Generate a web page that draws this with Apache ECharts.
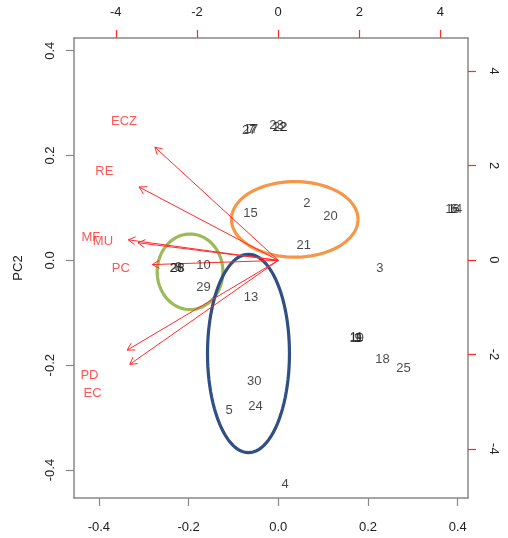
<!DOCTYPE html>
<html>
<head>
<meta charset="utf-8">
<script src="https://cdn.jsdelivr.net/npm/echarts@6/dist/echarts.min.js"></script>
<style>html,body{margin:0;padding:0;background:#fff}#c{width:508px;height:538px}</style>
</head>
<body>
<div id="c"></div>
<script>
// Observation scores (top / right axes)
const obsNames = ['1','2','3','4','5','6','7','8','9','10','11','12','13','14','15','16','17','18','19','20','21','22','23','24','25','26','27','28','29','30'];
const obsPC1 = [1.95,0.71,2.51,0.17,-1.21,4.33,-0.66,-2.46,1.97,-1.84,1.93,0.03,-0.67,4.36,-0.68,4.30,-0.67,2.57,1.94,1.29,0.63,0.05,-0.04,-0.56,3.09,-2.50,-0.71,-2.48,-1.84,-0.59];
const obsPC2 = [-1.62,1.23,-0.14,-4.72,-3.15,1.11,2.79,-0.13,-1.62,-0.09,-1.61,2.84,-0.77,1.10,1.01,1.11,2.79,-2.07,-1.62,0.95,0.33,2.84,2.89,-3.07,-2.27,-0.14,2.78,-0.14,-0.55,-2.54];
// Variable loadings (bottom / left axes)
const varNames = ['ECZ','RE','MF','MU','PC','PD','EC'];
const varPC1 = [-0.344,-0.388,-0.418,-0.391,-0.351,-0.421,-0.414];
const varPC2 = [0.270,0.175,0.049,0.042,-0.010,-0.214,-0.248];
const arrowScale = 0.8;
// Highlight ellipses (in score units)
const ellNames = ['orange','green','blue'];
const ellCX = [0.41,-2.17,-0.73];
const ellCY = [0.86,-0.25,-1.98];
const ellRX = [1.56,0.81,1.01];
const ellRY = [0.80,0.80,2.10];
const ellColors = ['#F79646','#9BBB59','#2F4F85'];
// Tick labels
const bottomTicks = [-0.4,-0.2,0,0.2,0.4];
const leftTicks = [-0.4,-0.2,0,0.2,0.4];
const topTicks = [-4,-2,0,2,4];
const rightTicks = [-4,-2,0,2,4];

const chart = echarts.init(document.getElementById('c'));
const FONT = 'Liberation Sans, Arial, sans-serif';
const gray = '#888888';
const red = '#FF2A2A';

function axisCommon(ticks, tickColor, fmt, margin, rotate){
  return {
    type:'value', scale:true,
    splitLine:{show:false},
    axisLine:{show:true, onZero:false, lineStyle:{color:gray, width:1.5}},
    axisTick:{show:true, length:8, customValues:ticks, lineStyle:{color:tickColor, width:1.2}},
    axisLabel:{show:true, customValues:ticks, formatter:fmt, margin:margin, rotate:rotate||0,
      color:'#222', fontSize:13, fontFamily:FONT}
  };
}

const ellSeries = ellNames.map((n,i)=>({
  type:'custom', xAxisIndex:1, yAxisIndex:1, silent:true, z:1,
  data:[[ellCX[i], ellCY[i], ellRX[i], ellRY[i]]],
  encode:{x:0,y:1},
  renderItem:(params, api)=>{
    const c = api.coord([api.value(0), api.value(1)]);
    const s = api.size([api.value(2), api.value(3)]);
    const pts=[];
    for(let k=0;k<=96;k++){const a=k/96*Math.PI*2; pts.push([c[0]+s[0]*Math.cos(a), c[1]+s[1]*Math.sin(a)]);}
    return {type:'polyline', shape:{points:pts}, style:{stroke:ellColors[i], lineWidth:3.2, fill:null}};
  }
}));

const option = {
  animation:false,
  grid:{left:74, right:40, top:38, bottom:40, containLabel:false},
  xAxis:[
    Object.assign(axisCommon(bottomTicks, gray, v=>v.toFixed(1), 23), {position:'bottom', min:-0.4555, max:0.423}),
    Object.assign(axisCommon(topTicks, red, v=>String(v), 19), {position:'top', min:-5.03, max:4.68})
  ],
  yAxis:[
    Object.assign(axisCommon(leftTicks, gray, v=>v.toFixed(1), 17, 90), {position:'left', min:-0.4534, max:0.4243,
      name:'PC2', nameLocation:'middle', nameGap:49, nameRotate:90,
      nameTextStyle:{color:'#222', fontSize:13, fontFamily:FONT}}),
    Object.assign(axisCommon(rightTicks, red, v=>String(v), 19, -90), {position:'right', min:-5.04, max:4.70})
  ],
  series:[
    {
      type:'custom', xAxisIndex:0, yAxisIndex:0, silent:true, z:3,
      data: varNames.map((n,i)=>[varPC1[i], varPC2[i]]),
      encode:{x:0,y:1},
      renderItem:(params, api)=>{
        const o = api.coord([0,0]);
        const t = api.coord([api.value(0)*arrowScale, api.value(1)*arrowScale]);
        const ang = Math.atan2(t[1]-o[1], t[0]-o[0]);
        const L=8, a=Math.PI/6;
        const p1=[t[0]-L*Math.cos(ang-a), t[1]-L*Math.sin(ang-a)];
        const p2=[t[0]-L*Math.cos(ang+a), t[1]-L*Math.sin(ang+a)];
        return {type:'group', children:[
          {type:'line', shape:{x1:o[0],y1:o[1],x2:t[0],y2:t[1]}, style:{stroke:red, lineWidth:1}},
          {type:'polyline', shape:{points:[p1,t,p2]}, style:{stroke:red, lineWidth:1, fill:null}}
        ]};
      }
    },
    {
      type:'scatter', xAxisIndex:0, yAxisIndex:0, silent:true, z:4,
      symbolSize:1, itemStyle:{color:'rgba(0,0,0,0)'},
      data: varNames.map((n,i)=>({name:n, value:[varPC1[i], varPC2[i]]})),
      label:{show:true, position:'inside', offset:[0,3], formatter:'{b}', color:red, fontSize:13, fontFamily:FONT}
    },
    {
      type:'scatter', xAxisIndex:1, yAxisIndex:1, silent:true, z:4,
      symbolSize:1, itemStyle:{color:'rgba(0,0,0,0)'},
      data: obsNames.map((n,i)=>({name:n, value:[obsPC1[i], obsPC2[i]]})),
      label:{show:true, position:'inside', offset:[0,1.5], formatter:'{b}', color:'#1a1a1a', fontSize:13, fontFamily:FONT}
    }
  ].concat(ellSeries)
};
chart.setOption(option);
</script>
</body>
</html>
